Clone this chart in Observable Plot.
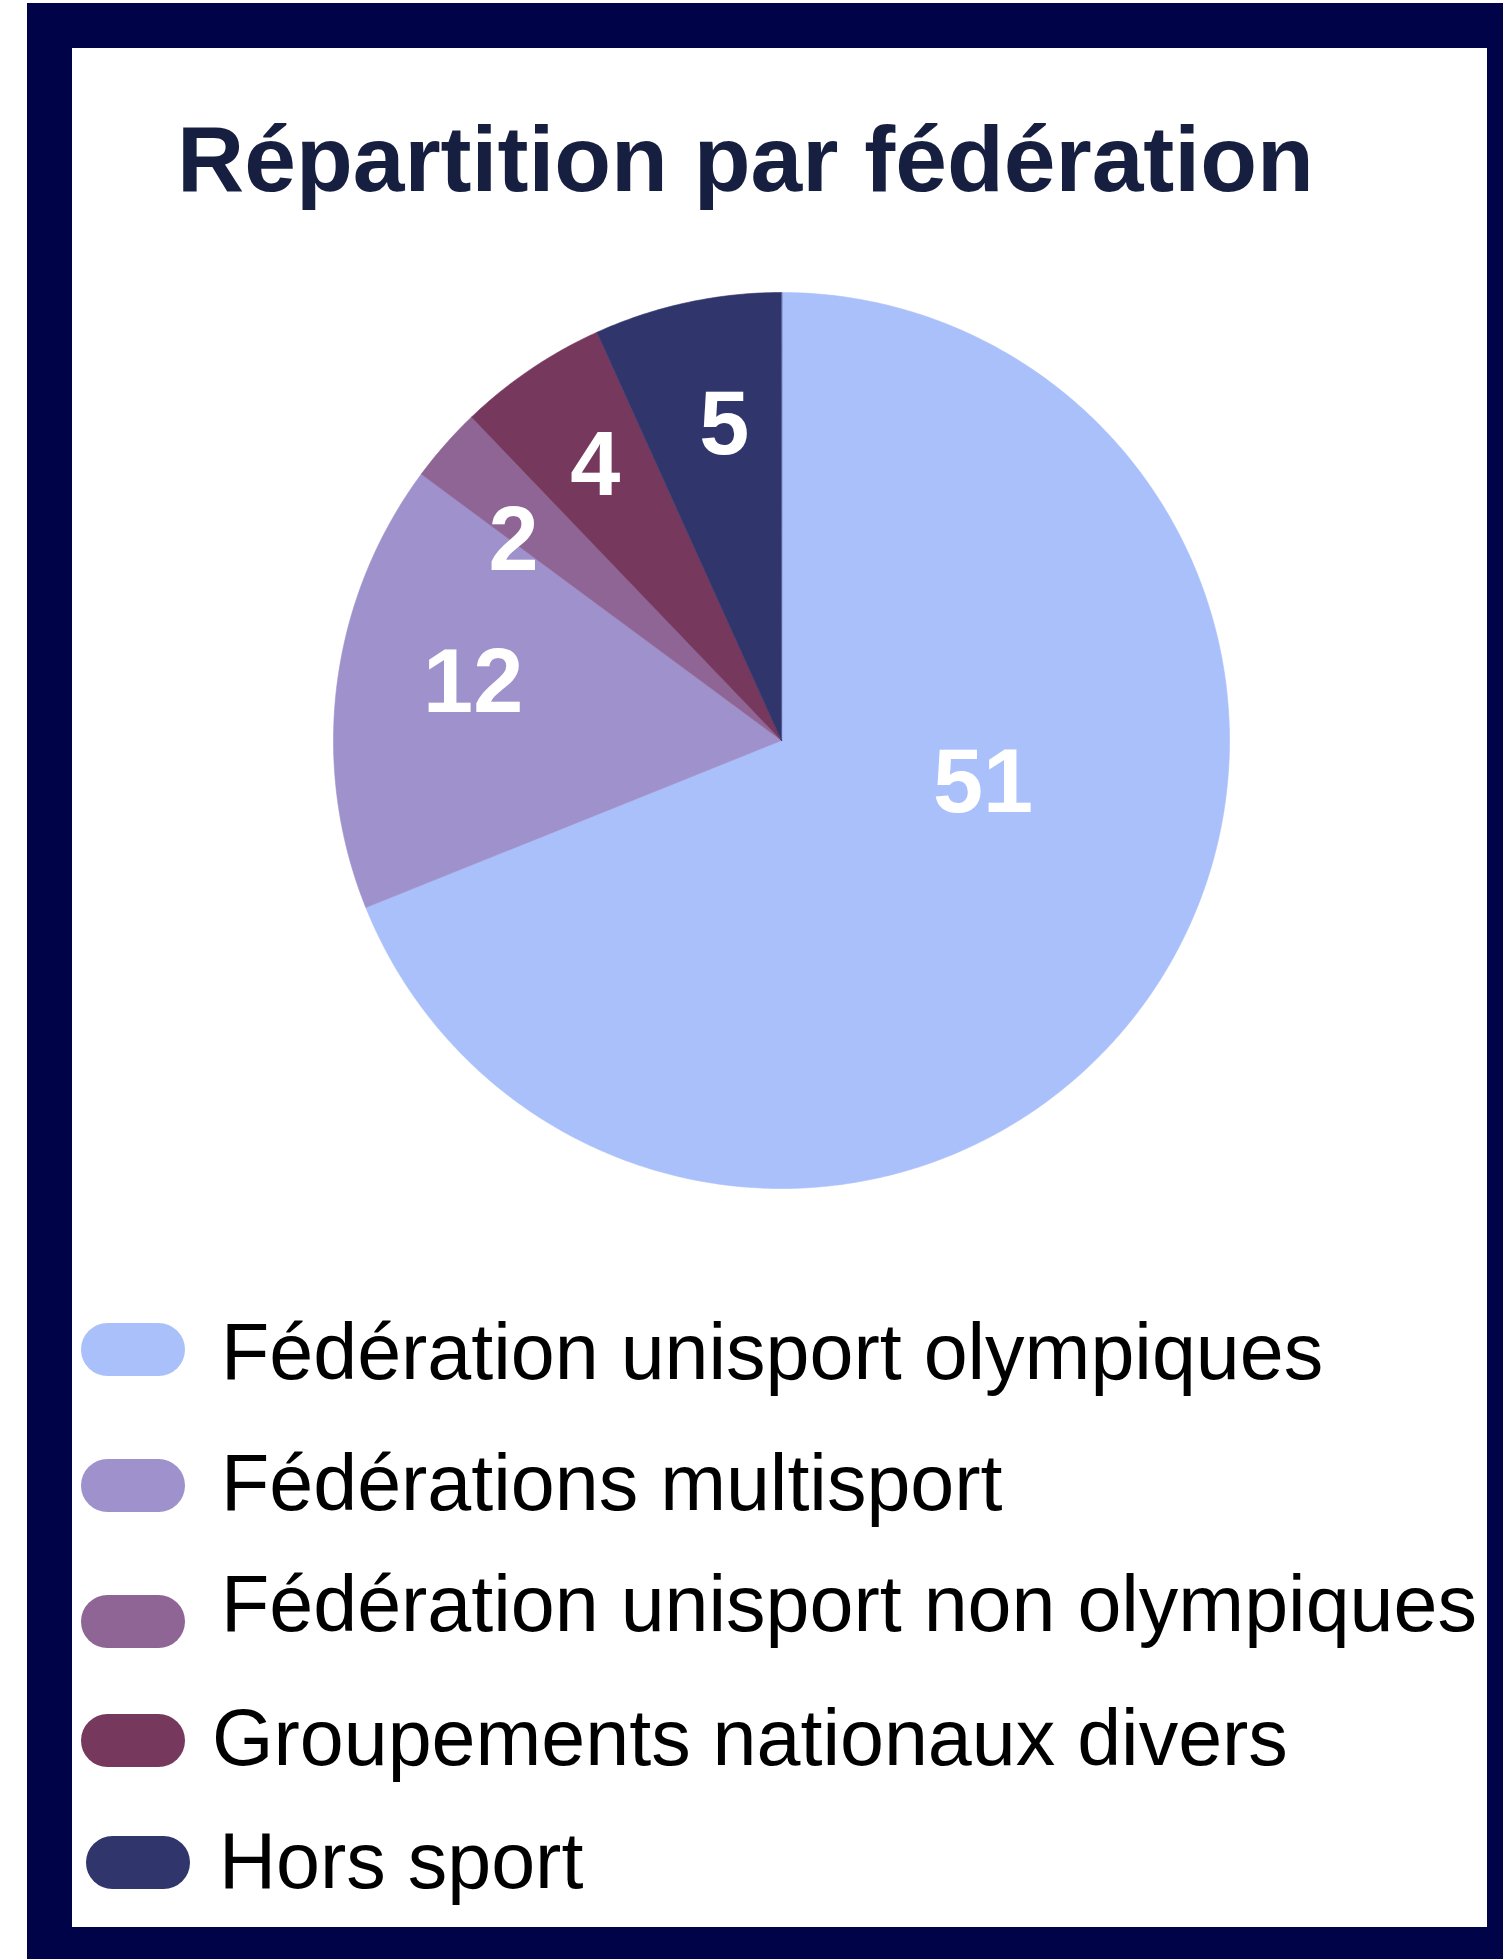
<!DOCTYPE html>
<html>
<head>
<meta charset="utf-8">
<script src="https://cdn.jsdelivr.net/npm/d3@7"></script>
<script src="https://cdn.jsdelivr.net/npm/@observablehq/plot@0.6"></script>
<style>
  html, body { margin: 0; padding: 0; background: #ffffff; }
  body { width: 1503px; height: 1959px; position: relative; overflow: hidden; font-family: "Liberation Sans", Arial, sans-serif; }
  #frame { position: absolute; left: 27px; top: 3px; width: 1476px; height: 1956px; background: #000348; }
  #inner { position: absolute; left: 72px; top: 48px; width: 1415px; height: 1879px; background: #ffffff; }
  #title { position: absolute; left: 177px; top: 113px; font-size: 93px; line-height: 93px; font-weight: bold; color: #161f3f; white-space: nowrap; }
  #pie { position: absolute; left: 281px; top: 240px; }
  .sw { position: absolute; width: 104px; height: 53px; border-radius: 27px; }
  .lt { position: absolute; font-size: 79px; line-height: 79px; color: #000000; white-space: nowrap; }
</style>
</head>
<body>
<div id="frame"></div>
<div id="inner"></div>
<div id="title"></div>
<div id="pie"></div>
<div id="legend"></div>
<script>
// ---- data ----
const titleText = "Répartition par fédération";
const categories = [
  "Fédération unisport olympiques",
  "Fédérations multisport",
  "Fédération unisport non olympiques",
  "Groupements nationaux divers",
  "Hors sport"
];
const values = [51, 12, 2, 4, 5];
const colors = ["#aac0fa", "#9f91cb", "#8e6595", "#76395d", "#30356c"];

// ---- layout (not data) ----
const labelRadius = [0.46, 0.70, 0.745, 0.74, 0.715];
const labelAngleDeg = [102, 280.5, 306.6, 325.8, 349.7];
const legendLayout = [
  {sx: 81, sy: 1323, tx: 221, ty: 1312},
  {sx: 81, sy: 1459, tx: 221, ty: 1443},
  {sx: 81, sy: 1595, tx: 221, ty: 1564},
  {sx: 81, sy: 1714, tx: 212, ty: 1698},
  {sx: 86, sy: 1836, tx: 219, ty: 1821}
];

document.getElementById("title").textContent = titleText;

// slices: angle clockwise from 12 o'clock
const total = d3.sum(values);
let acc = 0;
const slices = categories.map((name, i) => {
  const a0 = acc / total * 2 * Math.PI;
  acc += values[i];
  const a1 = acc / total * 2 * Math.PI;
  return {name, value: values[i], a0, a1};
});

const points = [];
for (const s of slices) {
  points.push({name: s.name, x: 0, y: 0});
  const n = Math.max(2, Math.ceil((s.a1 - s.a0) / (Math.PI / 360)));
  for (let k = 0; k <= n; k++) {
    const a = s.a0 + (s.a1 - s.a0) * k / n;
    points.push({name: s.name, x: Math.sin(a), y: Math.cos(a)});
  }
}

const labels = slices.map((s, i) => {
  const a = labelAngleDeg[i] * Math.PI / 180;
  return {text: String(s.value), x: labelRadius[i] * Math.sin(a), y: labelRadius[i] * Math.cos(a)};
});

const chart = Plot.plot({
  width: 1000,
  height: 1000,
  margin: 0,
  axis: null,
  x: {domain: [-1, 1], range: [52, 948]},
  y: {domain: [-1, 1], range: [948, 52]},
  color: {domain: categories, range: colors},
  style: {background: "transparent"},
  marks: [
    Plot.line(points, {x: "x", y: "y", z: "name", fill: "name", stroke: "name", strokeWidth: 0.6, curve: "linear-closed"}),
    Plot.text(labels, {x: "x", y: "y", text: "text", fill: "white", fontSize: 90, fontWeight: "bold", fontFamily: "Liberation Sans, Arial, sans-serif"})
  ]
});
document.getElementById("pie").appendChild(chart);

// legend
const legend = document.getElementById("legend");
categories.forEach((name, i) => {
  const L = legendLayout[i];
  const sw = document.createElement("div");
  sw.className = "sw";
  sw.style.left = L.sx + "px";
  sw.style.top = L.sy + "px";
  sw.style.background = colors[i];
  legend.appendChild(sw);
  const t = document.createElement("div");
  t.className = "lt";
  t.style.left = L.tx + "px";
  t.style.top = L.ty + "px";
  t.textContent = name;
  legend.appendChild(t);
});
</script>
</body>
</html>
